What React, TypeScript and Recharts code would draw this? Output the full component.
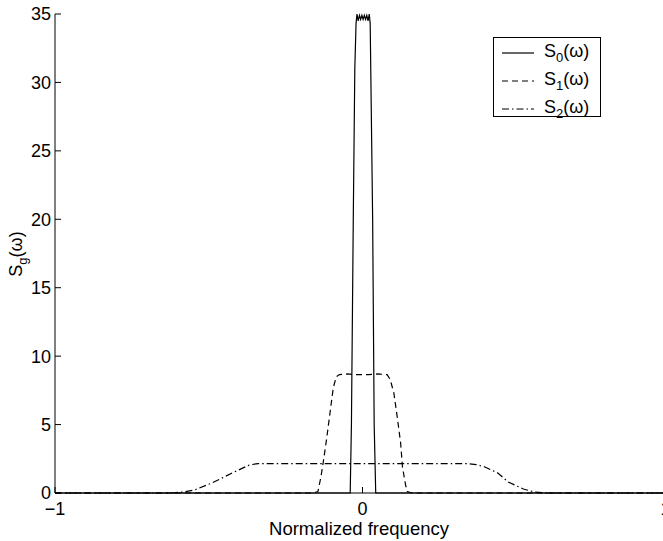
import React from 'react';
import { LineChart, Line, XAxis, YAxis, Legend } from 'recharts';

// normalized frequency / spectral density
const s0Freq = [-1, -0.04, -0.036, -0.03, -0.025, -0.021, -0.018, -0.014, -0.01, -0.006, -0.002, 0.002, 0.006, 0.01, 0.014, 0.018, 0.022, 0.025, 0.033, 0.038, 0.043, 1];
const s0Val = [0, 0, 5, 20, 31, 34.3, 35, 34.5, 34.9, 34.6, 34.9, 34.6, 34.9, 34.6, 34.9, 34.5, 35, 34.3, 20, 5, 0, 0];

const s1Freq = [-1, -0.16, -0.145, -0.135, -0.128, -0.117, -0.106, -0.095, -0.085, -0.075, -0.05, -0.02, 0.02, 0.05, 0.08, 0.09, 0.102, 0.113, 0.124, 0.13, 0.14, 0.146, 0.16, 1];
const s1Val = [0, 0, 0.1, 1.2, 2.2, 3.9, 5.8, 7.7, 8.5, 8.65, 8.7, 8.65, 8.65, 8.7, 8.65, 8.3, 7.3, 5.55, 3.65, 1.9, 0.6, 0.1, 0, 0];

const s2Freq = [-1, -0.64, -0.615, -0.58, -0.546, -0.49, -0.424, -0.368, -0.34, 0, 0.34, 0.37, 0.398, 0.44, 0.474, 0.503, 0.523, 0.56, 0.6, 1];
const s2Val = [0, 0, 0.02, 0.08, 0.22, 0.73, 1.46, 2.05, 2.15, 2.15, 2.15, 2.08, 1.9, 1.46, 0.8, 0.5, 0.29, 0.07, 0, 0];

const xTicks = [-1, 0, 1];
const yTicks = [0, 5, 10, 15, 20, 25, 30, 35];

const zip = (xs: number[], ys: number[]) => xs.map((f, i) => ({ f, v: ys[i] }));

const series = [
  { name: 'S0(ω)', data: zip(s0Freq, s0Val), dash: undefined },
  { name: 'S1(ω)', data: zip(s1Freq, s1Val), dash: '6 4' },
  { name: 'S2(ω)', data: zip(s2Freq, s2Val), dash: '7 3 1.5 3' },
];

const FONT = '"Liberation Sans", Arial, Helvetica, sans-serif';

const renderLegend = (props: any) => {
  const { payload } = props;
  return (
    <div style={{ border: '1px solid #000', background: '#fff', width: 106, height: 78, position: 'relative' }}>
      {(payload || []).map((entry: any, i: number) => {
        const name: string = entry.value;
        return (
          <div key={i} style={{ position: 'absolute', left: 0, top: 3 + i * 28, height: 24, width: 106, display: 'flex', alignItems: 'center' }}>
            <svg width={50} height={24} style={{ display: 'block' }}>
              <line x1={8} x2={40} y1={12} y2={12} stroke="#000" strokeWidth={1.2} strokeDasharray={entry.payload?.strokeDasharray} />
            </svg>
            <span style={{ fontSize: 18, color: '#000', fontFamily: FONT, whiteSpace: 'nowrap' }}>
              {name.charAt(0)}
              <sub style={{ fontSize: 13, verticalAlign: -5 }}>{name.charAt(1)}</sub>
              {name.slice(2)}
            </span>
          </div>
        );
      })}
    </div>
  );
};

const YLabel = () => (
  <text transform="translate(22, 254) rotate(-90)" textAnchor="middle" fontSize={18} fill="#000" fontFamily={FONT}>
    S<tspan fontSize={13} dy={5}>g</tspan>
    <tspan dy={-5}>(ω)</tspan>
  </text>
);

const XLabel = () => (
  <text x={359} y={535} textAnchor="middle" fontSize={18.5} fill="#000" fontFamily={FONT}>
    Normalized frequency
  </text>
);

export default function App() {
  const tickStyle = { fill: '#000', fontSize: 18, fontFamily: FONT };
  return (
    <div style={{ position: 'absolute', left: 0, top: 0, width: 663, height: 541, overflow: 'hidden', background: '#fff', fontFamily: FONT }}>
      <LineChart width={670} height={541} margin={{ top: 14, right: 0, bottom: 0, left: 0 }}>
        <XAxis
          xAxisId="b"
          type="number"
          dataKey="f"
          domain={[-1, 1]}
          ticks={xTicks}
          height={48}
          tickSize={-6}
          tickMargin={15}
          tick={tickStyle}
          axisLine={{ stroke: '#000' }}
          tickLine={{ stroke: '#000' }}
          tickFormatter={(v: number) => (v < 0 ? '\u2212' + Math.abs(v) : String(v))}
          label={<XLabel />}
          allowDuplicatedCategory={false}
        />
        <XAxis
          xAxisId="t"
          orientation="top"
          type="number"
          dataKey="f"
          domain={[-1, 1]}
          ticks={xTicks}
          height={0}
          tickSize={-6}
          tickFormatter={() => ''}
          axisLine={{ stroke: '#000' }}
          tickLine={{ stroke: '#000' }}
        />
        <YAxis
          yAxisId="l"
          type="number"
          domain={[0, 35]}
          ticks={yTicks}
          width={55}
          tickSize={-6}
          tickMargin={10}
          tick={tickStyle}
          axisLine={{ stroke: '#000' }}
          tickLine={{ stroke: '#000' }}
          label={<YLabel />}
        />
        <YAxis
          yAxisId="r"
          orientation="right"
          type="number"
          domain={[0, 35]}
          ticks={yTicks}
          width={0}
          tickSize={-6}
          tickFormatter={() => ''}
          axisLine={{ stroke: '#000' }}
          tickLine={{ stroke: '#000' }}
        />
        <Legend
          layout="horizontal"
          verticalAlign="middle"
          align="center"
          content={renderLegend}
          wrapperStyle={{ left: 493, top: 37, width: 108, height: 80 }}
        />
        {series.map((s) => (
          <Line
            key={s.name}
            xAxisId="b"
            yAxisId="l"
            data={s.data}
            dataKey="v"
            name={s.name}
            type="linear"
            stroke="#000"
            strokeWidth={1.2}
            strokeDasharray={s.dash}
            dot={false}
            activeDot={false}
            isAnimationActive={false}
          />
        ))}
      </LineChart>
    </div>
  );
}
